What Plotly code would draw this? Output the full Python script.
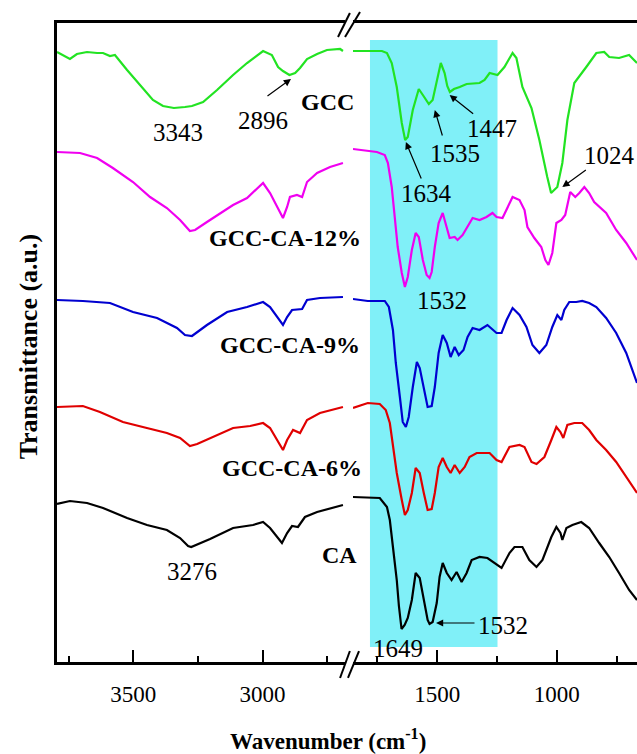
import plotly.graph_objects as go

FONT = "Liberation Serif"

# ---- FTIR spectra, stacked (transmittance in arbitrary units) ----
# High-wavenumber window (O-H / C-H stretching region)
GCC_HI_WN = [3795, 3745, 3718, 3679, 3640, 3617, 3590, 3571, 3524, 3474, 3424, 3385, 3343, 3300,
             3273, 3230, 3176, 3114, 3060, 2998, 2964, 2940, 2921, 2896, 2874, 2855, 2828, 2789,
             2751, 2700, 2689]
GCC_HI_T = [610, 603, 608, 610, 609, 609, 606, 607, 592, 577, 562, 556, 554, 555,
            556, 560, 572, 587, 599, 611, 607, 595, 591, 587, 589, 594, 603, 608,
            612, 613, 611]

CA12_HI_WN = [3795, 3706, 3640, 3579, 3501, 3435, 3370, 3319, 3281, 3261, 3215, 3164, 3114, 3060,
              2998, 2971, 2944, 2921, 2905, 2894, 2867, 2847, 2828, 2789, 2739, 2689]
CA12_HI_T = [510, 509, 504, 494, 480, 465, 454, 442, 431, 432, 440, 449, 457, 464,
             479, 469, 455, 444, 455, 465, 467, 465, 480, 489, 495, 499]

CA9_HI_WN = [3795, 3695, 3590, 3501, 3408, 3331, 3300, 3273, 3215, 3137, 3060, 2998, 2971, 2944,
             2921, 2905, 2886, 2847, 2828, 2778, 2689]
CA9_HI_T = [362, 361, 359, 350, 344, 334, 327, 326, 337, 350, 355, 360, 355, 345,
            337, 345, 352, 353, 362, 364, 365]

CA6_HI_WN = [3795, 3695, 3629, 3540, 3463, 3370, 3319, 3281, 3253, 3192, 3114, 3048, 2998, 2971,
             2944, 2921, 2905, 2882, 2855, 2828, 2778, 2689]
CA6_HI_T = [255, 256, 250, 240, 235, 229, 224, 216, 218, 225, 234, 236, 239, 234,
            222, 212, 222, 232, 229, 242, 249, 255]

CA_HI_WN = [3795, 3745, 3679, 3617, 3524, 3447, 3370, 3319, 3288, 3276, 3203, 3114, 3037, 2998,
            2971, 2944, 2925, 2905, 2886, 2863, 2836, 2789, 2727, 2689]
CA_HI_T = [158, 161, 159, 154, 144, 137, 132, 124, 116, 115, 123, 134, 137, 140,
           134, 125, 119, 129, 136, 135, 145, 150, 154, 157]

# Fingerprint window
GCC_LO_WN = [1852, 1731, 1710, 1690, 1669, 1648, 1634, 1623, 1602, 1577, 1560, 1535, 1519, 1502,
             1485, 1469, 1458, 1447, 1430, 1406, 1377, 1323, 1302, 1281, 1248, 1219, 1185, 1169,
             1144, 1106, 1073, 1040, 1024, 998, 977, 956, 927, 877, 835, 802, 781, 740, 698, 665]
GCC_LO_T = [611, 611, 609, 599, 575, 539, 522, 525, 552, 573, 567, 558, 562, 582,
            599, 589, 576, 570, 573, 575, 578, 579, 582, 589, 587, 595, 609, 604,
            575, 554, 522, 485, 469, 475, 499, 542, 579, 595, 609, 610, 605, 604, 607, 599]

CA12_LO_WN = [1852, 1752, 1719, 1706, 1690, 1677, 1665, 1648, 1635, 1623, 1606, 1590, 1577, 1560,
              1544, 1532, 1523, 1510, 1494, 1477, 1465, 1448, 1427, 1415, 1394, 1373, 1352, 1323,
              1294, 1269, 1252, 1227, 1185, 1156, 1135, 1123, 1094, 1065, 1048, 1035, 1019, 1002,
              981, 965, 944, 923, 906, 885, 865, 844, 794, 752, 710, 665]
CA12_LO_T = [513, 510, 507, 499, 475, 445, 415, 389, 375, 385, 412, 429, 425, 402,
             387, 384, 390, 415, 439, 449, 439, 424, 425, 422, 427, 435, 444, 442,
             445, 449, 445, 444, 465, 462, 452, 435, 424, 415, 402, 397, 409, 439,
             442, 447, 470, 465, 469, 475, 469, 460, 449, 432, 419, 402]

CA9_LO_WN = [1852, 1790, 1719, 1702, 1685, 1673, 1656, 1644, 1631, 1619, 1602, 1585, 1573, 1556,
             1540, 1523, 1510, 1494, 1477, 1460, 1444, 1427, 1410, 1390, 1373, 1352, 1323, 1290,
             1281, 1252, 1231, 1210, 1185, 1156, 1127, 1102, 1073, 1044, 1019, 998, 981, 969,
             948, 919, 894, 865, 835, 794, 752, 710, 665]
CA9_LO_T = [363, 361, 361, 355, 332, 299, 265, 240, 235, 245, 275, 300, 294, 275,
            255, 256, 275, 309, 327, 319, 305, 315, 307, 312, 325, 334, 332, 337,
            335, 329, 329, 342, 354, 347, 335, 317, 309, 317, 335, 347, 342, 352,
            360, 360, 361, 359, 355, 344, 329, 309, 279]

CA6_LO_WN = [1852, 1790, 1740, 1715, 1698, 1685, 1669, 1648, 1635, 1623, 1606, 1590, 1573, 1556,
             1540, 1523, 1510, 1494, 1477, 1460, 1444, 1427, 1406, 1385, 1365, 1335, 1281, 1252,
             1231, 1198, 1156, 1135, 1106, 1085, 1052, 1023, 1002, 985, 973, 956, 927, 894,
             865, 835, 794, 752, 710, 665]
CA6_LO_T = [254, 259, 258, 252, 239, 215, 189, 162, 147, 152, 169, 194, 189, 169,
            152, 153, 169, 195, 204, 195, 189, 197, 189, 195, 205, 209, 209, 202,
            200, 215, 217, 215, 200, 198, 205, 222, 235, 230, 224, 237, 239, 239,
            232, 222, 212, 200, 185, 169]

CA_LO_WN = [1852, 1740, 1710, 1698, 1685, 1669, 1660, 1649, 1636, 1623, 1606, 1590, 1573, 1556,
            1540, 1532, 1519, 1502, 1490, 1477, 1460, 1440, 1419, 1398, 1377, 1356, 1323, 1290,
            1252, 1231, 1198, 1177, 1144, 1115, 1085, 1060, 1023, 1002, 985, 977, 960, 935,
            898, 865, 823, 781, 740, 698, 665]
CA_LO_T = [165, 164, 155, 142, 115, 82, 56, 33, 37, 44, 62, 89, 84, 62,
           42, 38, 40, 59, 85, 99, 89, 82, 90, 80, 89, 102, 105, 104,
           97, 94, 109, 115, 115, 102, 95, 102, 125, 135, 129, 122, 134, 137,
           140, 134, 119, 105, 89, 72, 62]

SERIES = [
    ("GCC", "#22E322", GCC_HI_WN, GCC_HI_T, GCC_LO_WN, GCC_LO_T),
    ("GCC-CA-12%", "#F000F0", CA12_HI_WN, CA12_HI_T, CA12_LO_WN, CA12_LO_T),
    ("GCC-CA-9%", "#0000D0", CA9_HI_WN, CA9_HI_T, CA9_LO_WN, CA9_LO_T),
    ("GCC-CA-6%", "#E00000", CA6_HI_WN, CA6_HI_T, CA6_LO_WN, CA6_LO_T),
    ("CA", "#000000", CA_HI_WN, CA_HI_T, CA_LO_WN, CA_LO_T),
]

# amide band window that is highlighted
BAND_WN = [1781, 1248]
BAND_T = [15, 622]

fig = go.Figure()
for name, color, hw, ht, lw, lt in SERIES:
    fig.add_trace(go.Scatter(x=hw, y=ht, mode="lines", name=name, xaxis="x", yaxis="y",
                             line=dict(color=color, width=2.2), showlegend=False))
    fig.add_trace(go.Scatter(x=lw, y=lt, mode="lines", name=name, xaxis="x2", yaxis="y",
                             line=dict(color=color, width=2.2), showlegend=False))

fig.add_shape(type="rect", xref="x2", yref="y", x0=BAND_WN[0], x1=BAND_WN[1],
              y0=BAND_T[0], y1=BAND_T[1], fillcolor="#80F0F8", line=dict(width=0),
              layer="below")

axis_common = dict(
    showline=True, linecolor="black", linewidth=2.5, mirror=True,
    ticks="inside", ticklen=12, tickwidth=2, tickcolor="black",
    tickmode="linear", tick0=0, dtick=500,
    minor=dict(dtick=250, tick0=0, ticks="inside", ticklen=6, tickwidth=2, tickcolor="black"),
    showgrid=False, zeroline=False,
    tickfont=dict(family=FONT, size=23, color="black"),
    ticklabelstandoff=10,
)

fig.update_layout(
    width=637, height=754,
    margin=dict(l=57, r=0, t=23, b=92),
    paper_bgcolor="white", plot_bgcolor="white",
    xaxis=dict(domain=[0, 0.4966], range=[3795, 2681], anchor="y", **axis_common),
    xaxis2=dict(domain=[0.5103, 1], range=[1852, 665], anchor="y", **axis_common),
    yaxis=dict(domain=[0, 1], range=[0, 639], showline=True, linecolor="black", linewidth=2.5,
               ticks="", showticklabels=False, showgrid=False, zeroline=False),
)

# axis-break marks
for x0, y0, x1, y1 in [(0.488, -0.025, 0.505, 0.0172), (0.5017, -0.025, 0.5207, 0.0172),
                       (0.4845, 0.978, 0.505, 1.0156), (0.4966, 0.978, 0.5224, 1.0172)]:
    fig.add_shape(type="line", xref="paper", yref="paper", x0=x0, y0=y0, x1=x1, y1=y1,
                  line=dict(color="black", width=2))

num_font = dict(family=FONT, size=25, color="black")
lab_font = dict(family=FONT, size=24, color="black")

# peak labels
peak_labels = [
    ("x", 3327, 530, "3343"), ("x", 2998, 542, "2896"), ("x", 3273, 91, "3276"),
    ("x2", 1544, 469, "1634"), ("x2", 1427, 509, "1535"), ("x2", 1273, 534, "1447"),
    ("x2", 781, 507, "1024"), ("x2", 1481, 362, "1532"), ("x2", 1665, 14, "1649"),
    ("x2", 1227, 37, "1532"),
]
for xr, x, y, t in peak_labels:
    fig.add_annotation(xref=xr, yref="y", x=x, y=y, text=t, showarrow=False, font=num_font,
                       xanchor="center", yanchor="middle")

# arrows pointing at bands (head in data units, tail offset in pixels)
arrows = [
    ("x", 2890, 583, -25, 18), ("x2", 1631, 520, 16, 38), ("x2", 1510, 552, 8, 27),
    ("x2", 1448, 567, 25, 20), ("x2", 977, 475, 25, -18), ("x2", 1505, 39, 40, 0),
]
for xr, x, y, ax, ay in arrows:
    fig.add_annotation(xref=xr, yref="y", x=x, y=y, ax=ax, ay=ay, text="", showarrow=True,
                       arrowhead=2, arrowsize=1.2, arrowwidth=1.2, arrowcolor="black")

# sample names
names = [
    ("x", 2747, 560, "GCC", "center"), ("x", 3215, 424, "GCC-CA-12%", "left"),
    ("x", 3173, 317, "GCC-CA-9%", "left"), ("x", 3164, 194, "GCC-CA-6%", "left"),
    ("x", 2778, 107, "CA", "left"),
]
for xr, x, y, t, anc in names:
    fig.add_annotation(xref=xr, yref="y", x=x, y=y, text="<b>%s</b>" % t, showarrow=False,
                       xanchor=anc, yanchor="middle", font=lab_font)

# axis titles
fig.add_annotation(xref="paper", yref="paper", x=0.467, y=-0.122,
                   text="<b>Wavenumber (cm<sup>-1</sup>)</b>", showarrow=False,
                   xanchor="center", yanchor="middle",
                   font=dict(family=FONT, size=23, color="black"))
fig.add_annotation(xref="paper", yref="paper", x=-0.05, y=0.494,
                   text="<b>Transmittance (a.u.)</b>", textangle=-90, showarrow=False,
                   xanchor="center", yanchor="middle",
                   font=dict(family=FONT, size=26, color="black"))

fig.write_html("out.html")
